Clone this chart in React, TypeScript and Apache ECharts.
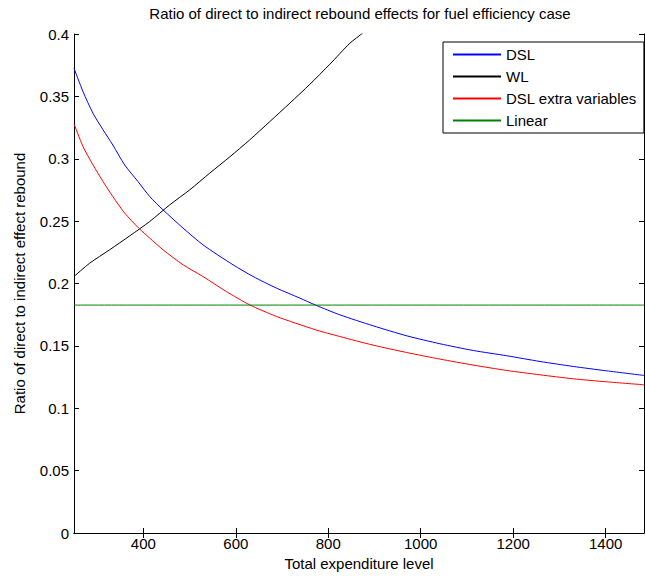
import React, { useEffect, useRef } from "react";
import * as echarts from "echarts";

const titleText = "Ratio of direct to indirect rebound effects for fuel efficiency case";
const xAxisName = "Total expenditure level";
const yAxisName = "Ratio of direct to indirect effect rebound";

const xTickValues = [400, 600, 800, 1000, 1200, 1400];

const dslX = [250, 269.5, 291, 312.8, 334, 359.7, 388.5, 413.8, 442.7, 486, 529, 594, 637.5, 688, 738.5, 772.5, 825, 897, 969.5, 1041.6, 1113.6, 1186, 1258, 1330, 1402, 1483];
const dslY = [0.3726, 0.3538, 0.3365, 0.3232, 0.311, 0.295, 0.2817, 0.2697, 0.259, 0.2444, 0.231, 0.215, 0.2056, 0.1963, 0.1883, 0.1827, 0.1749, 0.1661, 0.1581, 0.1517, 0.1463, 0.1421, 0.1375, 0.1335, 0.13, 0.1263];

const wlX = [250, 284, 327, 370.6, 413.8, 457, 500.4, 543.7, 587, 630, 673.6, 717, 760, 803.5, 846.8, 875.5, 900];
const wlY = [0.2056, 0.2163, 0.227, 0.2382, 0.2497, 0.263, 0.2751, 0.2885, 0.3015, 0.3151, 0.3298, 0.3446, 0.3596, 0.3758, 0.3926, 0.4011, 0.41];

const dslExtraX = [250, 269.5, 291, 312.8, 334, 359.7, 390, 413.8, 442.7, 486, 529, 579.8, 630, 688, 772.5, 825, 897, 969.5, 1041.6, 1113.6, 1186, 1258, 1330, 1402, 1483];
const dslExtraY = [0.328, 0.3098, 0.2951, 0.2817, 0.2697, 0.2564, 0.2444, 0.2364, 0.227, 0.215, 0.2056, 0.1935, 0.1829, 0.1736, 0.1629, 0.1575, 0.1506, 0.1447, 0.1394, 0.1346, 0.1303, 0.1268, 0.1236, 0.1212, 0.1188];

const linearX = [250, 1483];
const linearY = [0.1827, 0.1827];

const seriesNames = ["DSL", "WL", "DSL extra variables", "Linear"];
const seriesColors = ["#0000ff", "#000000", "#ff0000", "#008000"];

const FONT = "'Liberation Sans', Arial, Helvetica, sans-serif";
const FS = 15;

function zip(xs: number[], ys: number[]) {
  return xs.map((x, i) => [x, ys[i]]);
}

export default function App() {
  const ref = useRef<HTMLDivElement>(null);
  useEffect(() => {
    if (!ref.current) return;
    const chart = echarts.init(ref.current, null, { renderer: "svg" });
    const datasets = [zip(dslX, dslY), zip(wlX, wlY), zip(dslExtraX, dslExtraY), zip(linearX, linearY)];
    const axisLine = { show: true, lineStyle: { color: "#000", width: 1 } };
    const tickStyle = { inside: true, length: 5, lineStyle: { color: "#000", width: 1 } };
    chart.setOption({
      animation: false,
      backgroundColor: "#fff",
      textStyle: { fontFamily: FONT },
      grid: { left: 74, top: 34, right: 1, bottom: 44, containLabel: false },
      graphic: [
        {
          type: "text",
          x: 360,
          y: 6,
          style: { text: titleText, fontSize: FS, fontFamily: FONT, fill: "#000", textAlign: "center", textVerticalAlign: "top" },
        },
      ],
      legend: {
        orient: "vertical",
        left: 443,
        top: 42,
        padding: [5, 7, 5, 9],
        itemGap: 7,
        itemWidth: 48,
        itemHeight: 15,
        backgroundColor: "#fff",
        borderColor: "#000",
        borderWidth: 1,
        borderRadius: 0,
        itemStyle: { opacity: 0 },
        textStyle: { fontSize: FS, fontFamily: FONT, color: "#000" },
        data: seriesNames,
      },
      xAxis: [
        {
          type: "value",
          min: 250,
          max: 1483,
          position: "bottom",
          name: xAxisName,
          nameLocation: "middle",
          nameGap: 21,
          nameTextStyle: { fontSize: FS, fontFamily: FONT, color: "#000" },
          axisLine,
          axisTick: { ...tickStyle, customValues: xTickValues },
          axisLabel: {
            customValues: xTickValues,
            fontSize: FS,
            fontFamily: FONT,
            color: "#000",
            margin: 3,
            formatter: (v: number) => String(v),
          },
          splitLine: { show: false },
        },
        {
          type: "value",
          min: 250,
          max: 1483,
          position: "top",
          axisLine,
          axisTick: { ...tickStyle, customValues: xTickValues },
          axisLabel: { show: false },
          splitLine: { show: false },
        },
      ],
      yAxis: [
        {
          type: "value",
          min: 0,
          max: 0.4,
          interval: 0.05,
          position: "left",
          name: yAxisName,
          nameLocation: "middle",
          nameGap: 47,
          nameTextStyle: { fontSize: FS, fontFamily: FONT, color: "#000" },
          axisLine,
          axisTick: tickStyle,
          axisLabel: { fontSize: FS, fontFamily: FONT, color: "#000", margin: 5 },
          splitLine: { show: false },
        },
        {
          type: "value",
          min: 0,
          max: 0.4,
          interval: 0.05,
          position: "right",
          axisLine,
          axisTick: tickStyle,
          axisLabel: { show: false },
          splitLine: { show: false },
        },
      ],
      series: datasets.map((d, i) => ({
        name: seriesNames[i],
        type: "line",
        data: d,
        symbol: "none",
        showSymbol: false,
        smooth: 0.25,
        clip: true,
        color: seriesColors[i],
        lineStyle: { color: seriesColors[i], width: 1 },
        emphasis: { disabled: true },
      })),
    });
    return () => chart.dispose();
  }, []);
  return <div ref={ref} style={{ position: "absolute", left: 0, top: 0, width: 645, height: 577 }} />;
}
